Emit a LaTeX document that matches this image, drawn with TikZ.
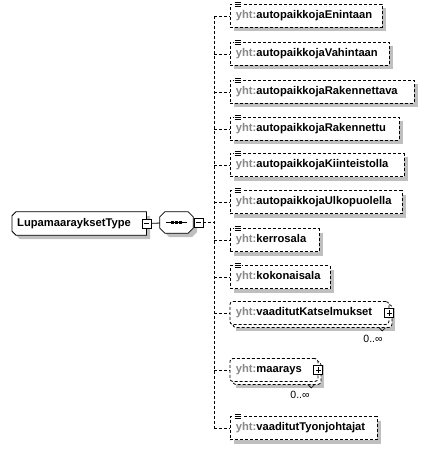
\documentclass[tikz,border=0pt]{standalone}
\usepackage{fontspec}
\setmainfont{Liberation Sans}
\usetikzlibrary{calc}
\definecolor{yhtgray}{RGB}{136,136,136}
\newcommand{\elemname}[2]{\makebox[#1][l]{\textcolor{yhtgray}{yht:}#2}}
\newcommand{\listicon}[1]{%
  \fill[white] ($(#1.north west)+(4,-3)$) rectangle ($(#1.north west)+(12,3)$);
  \foreach \dy in {-2,0,2} \draw[line width=0.7pt] ($(#1.north west)+(5,\dy)$) -- ++(6,0);}

\begin{document}
\begin{tikzpicture}[x=1pt,y=1pt,yscale=-1,
  elem/.style={draw, dash pattern=on 3pt off 2pt, line width=0.8pt, fill=white,
    minimum height=23pt, inner xsep=6pt, inner ysep=0pt, anchor=west,
    font=\fontsize{11.2}{13}\selectfont\bfseries},
  multi/.style={rounded corners=3pt},
  boxshadow/.style={fill=black, fill opacity=0.25, draw=none},
  dashline/.style={dash pattern=on 3pt off 2pt, line width=0.8pt},
  pmbox/.style={draw, fill=white, line width=0.7pt, minimum size=9pt, inner sep=0pt,
    path picture={\draw ([xshift=2pt]path picture bounding box.west) -- ([xshift=-2pt]path picture bounding box.east);}},
  mult/.style={font=\fontsize{10.5}{12}\selectfont, inner sep=0pt}]
\useasboundingbox (0,0) rectangle (423,449);

% shadows
\path[boxshadow] (233.5,8.5) rectangle (385.5,31.5);
\path[boxshadow] (233.5,46.5) rectangle (392.5,69.5);
\path[boxshadow] (233.5,84.5) rectangle (417.5,107.5);
\path[boxshadow] (233.5,121.5) rectangle (402.5,144.5);
\path[boxshadow] (233.5,157.5) rectangle (407.5,180.5);
\path[boxshadow] (233.5,194.5) rectangle (405.5,217.5);
\path[boxshadow] (233.5,232.5) rectangle (322.5,255.5);
\path[boxshadow] (233.5,269.5) rectangle (333.5,292.5);
\path[boxshadow] (235.5,307.5) rectangle (394.5,330.5);
\path[boxshadow] (235.5,364.5) rectangle (323.5,387.5);
\path[boxshadow] (233.5,420.5) rectangle (380.5,443.5);
\path[boxshadow] (20,216) -- (150,216) -- (150,239) -- (20,239) -- (16,235) -- (16,220) -- cycle;
\path[boxshadow] (169,216) -- (192,216) -- (197,221) -- (197,232) -- (192,237) -- (169,237) -- (164,232) -- (164,221) -- cycle;

% complex type
\node[minimum width=134pt, minimum height=23pt, inner xsep=5pt, inner ysep=0pt,
  anchor=west, font=\fontsize{11.2}{13}\selectfont\bfseries]
  (lupa) at (12,223.5) {\makebox[124pt][l]{LupamaarayksetType}};
\draw[line width=0.8pt, fill=white] (lupa.north east) -- (lupa.south east) -- ($(lupa.south west)+(4,0)$)
  -- ($(lupa.south west)+(0,-4)$) -- ($(lupa.north west)+(0,4)$) -- ($(lupa.north west)+(4,0)$) -- cycle;
\node[font=\fontsize{11.2}{13}\selectfont\bfseries, inner sep=0pt, anchor=west] (lupatext)
  at ([xshift=5pt]lupa.west) {LupamaarayksetType};
\node[pmbox] (tminus) at (lupa.east) {};

% sequence
\node[minimum width=33pt, minimum height=21pt, inner sep=0pt] (seq) at (176.5,222.5) {};
\draw[line width=0.8pt, fill=white] ($(seq.north west)+(5,0)$) -- ($(seq.north east)+(-5,0)$) -- ($(seq.north east)+(0,5)$)
  -- ($(seq.south east)+(0,-5)$) -- ($(seq.south east)+(-5,0)$) -- ($(seq.south west)+(5,0)$)
  -- ($(seq.south west)+(0,-5)$) -- ($(seq.north west)+(0,5)$) -- cycle;
\draw[line width=0.8pt] ([xshift=6pt]seq.west) -- ([xshift=-6pt]seq.east);
\foreach \dx in {-4,0,4} \fill ([xshift=\dx pt]seq.center) +(-1.5,-1.5) rectangle +(1.5,1.5);
\node[pmbox, anchor=west] (sminus) at ([xshift=0.5pt]seq.east) {};
\draw[line width=0.8pt] (tminus) -- (seq);

% spine
\coordinate (spmid) at (214,222.5);
\coordinate (sp1) at (214,16);
\coordinate (sp2) at (214,54);
\coordinate (sp3) at (214,92);
\coordinate (sp4) at (214,129);
\coordinate (sp5) at (214,165);
\coordinate (sp6) at (214,202);
\coordinate (sp7) at (214,240);
\coordinate (sp8) at (214,277);
\coordinate (sp9) at (214,313);
\coordinate (sp10) at (214,370);
\coordinate (sp11) at (214,428);
\draw[dashline] (sminus) -- (spmid);
\draw[dashline] (sp1) -- (sp11);

% elements
\node[elem] (enintaan) at (229.5,16) {\elemname{140pt}{autopaikkojaEnintaan}};
\node[elem] (vahintaan) at (229.5,54) {\elemname{147pt}{autopaikkojaVahintaan}};
\node[elem] (rakennettava) at (229.5,92) {\elemname{172pt}{autopaikkojaRakennettava}};
\node[elem] (rakennettu) at (229.5,129) {\elemname{157pt}{autopaikkojaRakennettu}};
\node[elem] (kiinteisto) at (229.5,165) {\elemname{162pt}{autopaikkojaKiinteistolla}};
\node[elem] (ulkopuolella) at (229.5,202) {\elemname{160pt}{autopaikkojaUlkopuolella}};
\node[elem] (kerrosala) at (229.5,240) {\elemname{77pt}{kerrosala}};
\node[elem] (kokonaisala) at (229.5,277) {\elemname{88pt}{kokonaisala}};
\node[elem, multi] (katsback) at (232.5,316) {\makebox[147pt]{}};
\node[elem, multi] (katsel) at (229.5,313) {\elemname{147pt}{vaaditutKatselmukset}};
\node[elem, multi] (maarback) at (232.5,373) {\makebox[76pt]{}};
\node[elem, multi] (maarays) at (229.5,370) {\elemname{76pt}{maarays}};
\node[elem] (tyonjoht) at (229.5,428) {\elemname{135pt}{vaaditutTyonjohtajat}};

\listicon{enintaan}
\listicon{vahintaan}
\listicon{rakennettava}
\listicon{rakennettu}
\listicon{kiinteisto}
\listicon{ulkopuolella}
\listicon{kerrosala}
\listicon{kokonaisala}
\listicon{tyonjoht}

\draw[dashline] (sp1) -- (enintaan);
\draw[dashline] (sp2) -- (vahintaan);
\draw[dashline] (sp3) -- (rakennettava);
\draw[dashline] (sp4) -- (rakennettu);
\draw[dashline] (sp5) -- (kiinteisto);
\draw[dashline] (sp6) -- (ulkopuolella);
\draw[dashline] (sp7) -- (kerrosala);
\draw[dashline] (sp8) -- (kokonaisala);
\draw[dashline] (sp9) -- (katsel);
\draw[dashline] (sp10) -- (maarays);
\draw[dashline] (sp11) -- (tyonjoht);

% occurrence marks
\node[pmbox] (katsplus) at (katsel.east) {};
\draw[line width=0.7pt] ([yshift=-2pt]katsplus.south) -- ([yshift=2pt]katsplus.north);
\node[pmbox] (maarplus) at (maarays.east) {};
\draw[line width=0.7pt] ([yshift=-2pt]maarplus.south) -- ([yshift=2pt]maarplus.north);
\draw[line width=0.6pt] ($(katsback.south east)+(-13,0)$) -- ++(3,3) -- ++(3,-3);
\draw[line width=0.6pt] ($(maarback.south east)+(-13,0)$) -- ++(3,3) -- ++(3,-3);
\node[mult] (katsmult) at (373,339) {0..∞};
\node[mult] (maarmult) at (300,395) {0..∞};

\end{tikzpicture}
\end{document}
